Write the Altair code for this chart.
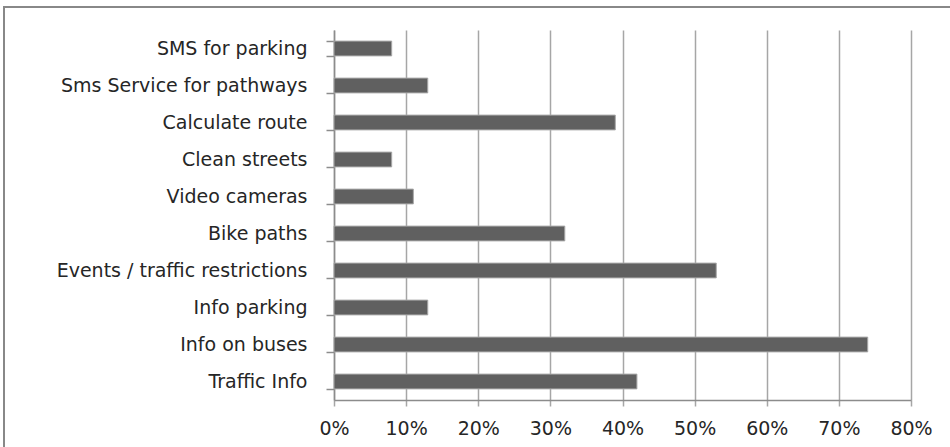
import altair as alt
import pandas as pd

# Survey answers: share of respondents interested in each service
services = [
    "SMS for parking",
    "Sms Service for pathways",
    "Calculate route",
    "Clean streets",
    "Video cameras",
    "Bike paths",
    "Events / traffic restrictions",
    "Info parking",
    "Info on buses",
    "Traffic Info",
]
shares = [0.08, 0.13, 0.39, 0.08, 0.11, 0.32, 0.53, 0.13, 0.74, 0.42]
x_ticks = [0, 0.1, 0.2, 0.3, 0.4, 0.5, 0.6, 0.7, 0.8]

df = pd.DataFrame({"service": services, "share": shares})

FONT = "DejaVu Sans"
FONT_SIZE = 19
GRID = "#a6a6a6"

bars = alt.Chart(df).mark_bar(
    color="#606060", stroke="#a8a8a8", strokeWidth=1
).encode(
    x=alt.X(
        "share:Q",
        scale=alt.Scale(domain=[0, 0.8], nice=False),
        axis=alt.Axis(
            values=x_ticks,
            format=".0%",
            title=None,
            grid=True,
            gridColor=GRID,
            gridWidth=1.5,
            domainColor="#8c8c8c",
            domainWidth=1.5,
            tickColor=GRID,
            tickWidth=1.5,
            tickSize=6,
            labelPadding=13,
            labelFlush=False,
            labelOverlap=False,
            labelFont=FONT,
            labelFontSize=FONT_SIZE,
            labelColor="#262626",
        ),
    ),
    y=alt.Y(
        "service:N",
        sort=None,
        scale=alt.Scale(paddingInner=0.6, paddingOuter=0.3),
        axis=alt.Axis(
            title=None,
            tickBand="extent",
            tickColor="#8c8c8c",
            tickWidth=1.5,
            tickSize=8,
            domainColor="#8c8c8c",
            domainWidth=1.5,
            labelPadding=19,
            labelFont=FONT,
            labelFontSize=FONT_SIZE,
            labelColor="#262626",
            labelLimit=400,
        ),
    ),
)

# Outer frame around the chart area
frame = alt.Chart(pd.DataFrame({"f": [0]})).mark_rect(
    fillOpacity=0, stroke="#888888", strokeWidth=2
).encode(
    x=alt.value(-330),
    x2=alt.value(1000),
    y=alt.value(-23),
    y2=alt.value(1000),
)

chart = alt.layer(frame, bars).properties(
    width=577,
    height=370,
    autosize=alt.AutoSizeParams(type="none"),
    padding={"left": 334, "top": 30, "right": 39, "bottom": 47},
    background="white",
).configure_view(stroke=None)

chart.save("out.html", embed_options={"renderer": "svg", "actions": False})
